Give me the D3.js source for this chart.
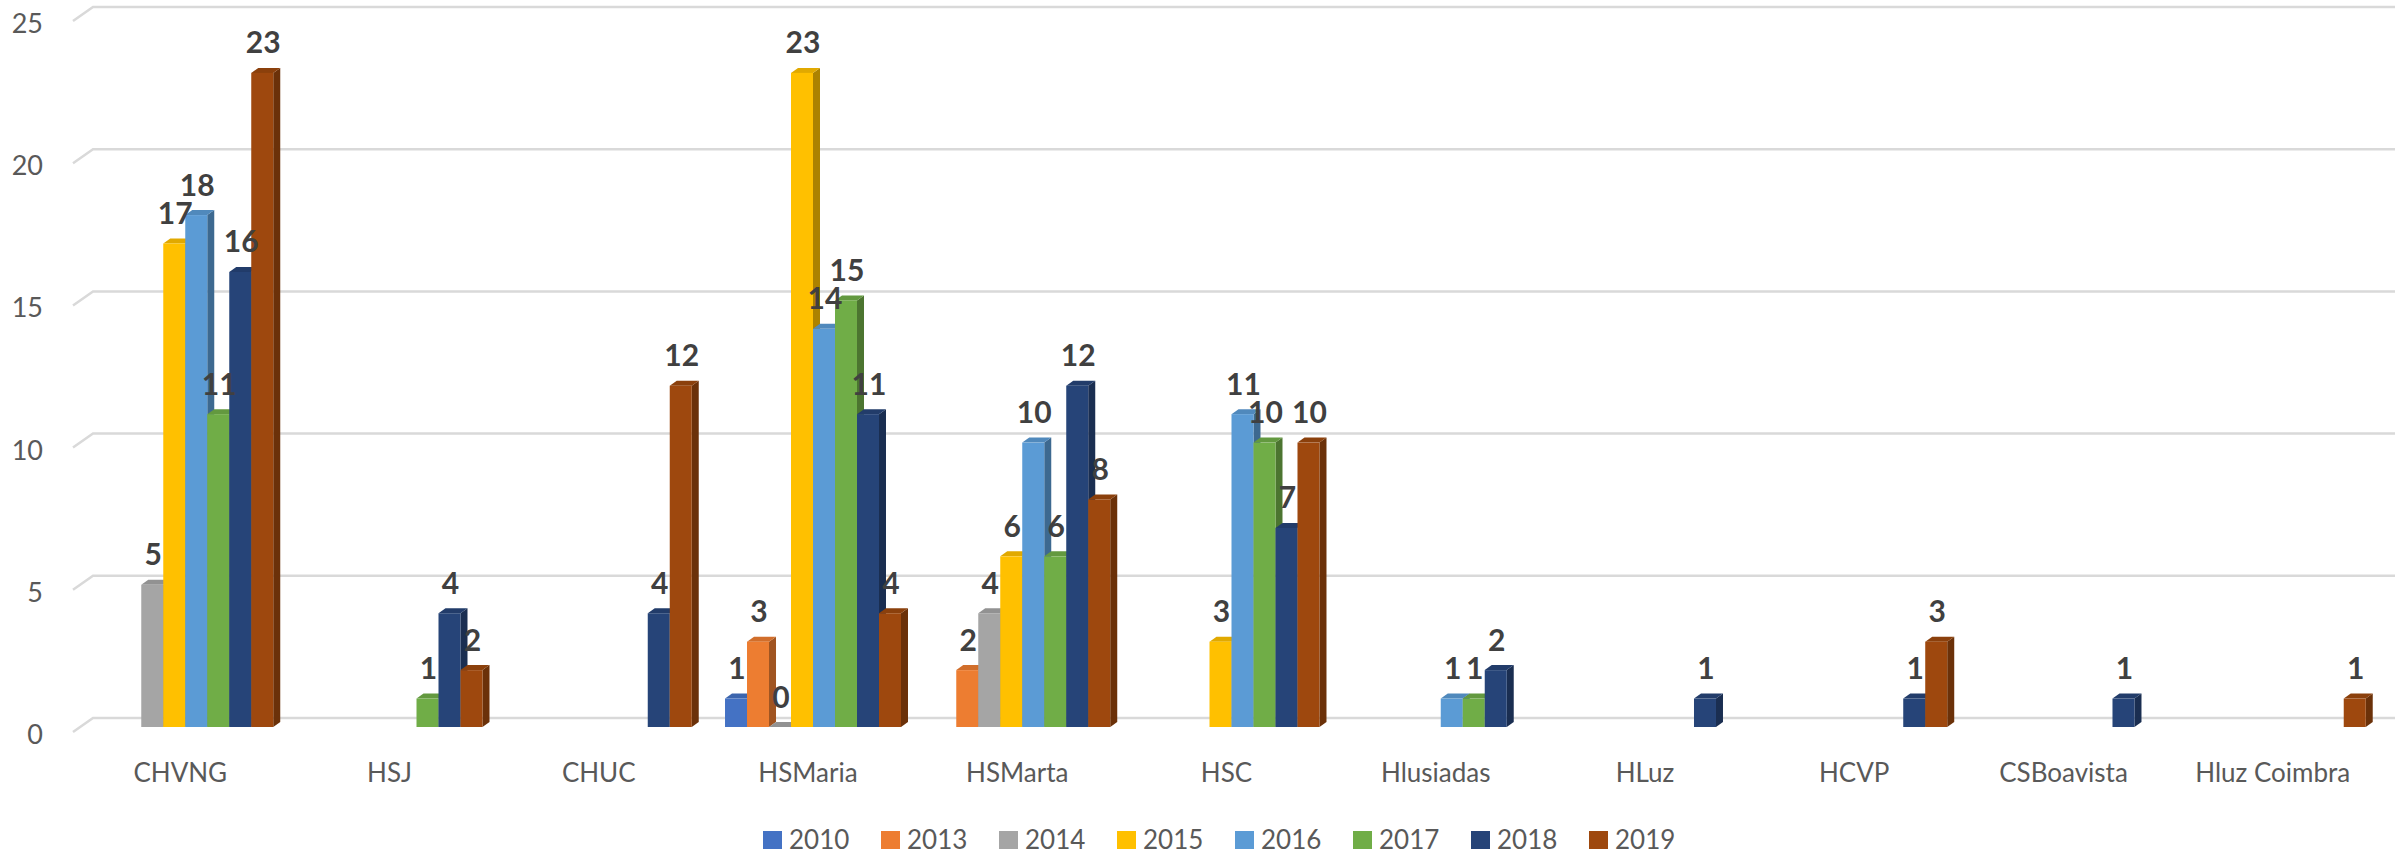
<!DOCTYPE html>
<html>
<head>
  <meta charset="utf-8">
  <title>chart</title>
  <script src="https://d3js.org/d3.v7.min.js"></script>
  <style>
    body { margin: 0; background: #fff; }
    text { font-family: Lato, "Open Sans", sans-serif; }
  </style>
</head>
<body>
  <svg width="2402" height="854" id="mainsvg"></svg>
  <script>
    const categories = ['CHVNG', 'HSJ', 'CHUC', 'HSMaria', 'HSMarta', 'HSC', 'Hlusiadas', 'HLuz', 'HCVP', 'CSBoavista', 'Hluz Coimbra'];
    const years = ['2010', '2013', '2014', '2015', '2016', '2017', '2018', '2019'];
    const colors = ['#4472C4', '#ED7D31', '#A5A5A5', '#FFC000', '#5B9BD5', '#70AD47', '#264478', '#9E480E'];
    const yTicks = [0, 5, 10, 15, 20, 25];

    // one array per year, null = no bar
    const v2010 = [null, null, null, 1, null, null, null, null, null, null, null];
    const v2013 = [null, null, null, 3, 2, null, null, null, null, null, null];
    const v2014 = [5, null, null, 0, 4, null, null, null, null, null, null];
    const v2015 = [17, null, null, 23, 6, 3, null, null, null, null, null];
    const v2016 = [18, null, null, 14, 10, 11, 1, null, null, null, null];
    const v2017 = [11, 1, null, 15, 6, 10, 1, null, null, null, null];
    const v2018 = [16, 4, 4, 11, 12, 7, 2, 1, 1, 1, null];
    const v2019 = [23, 2, 12, 4, 8, 10, null, null, 3, null, 1];
    const series = [v2010, v2013, v2014, v2015, v2016, v2017, v2018, v2019];

    let svg = d3.select('#mainsvg');

    // back wall scale, bars sit a few px lower (in front)
    let y = d3.scaleLinear().domain([0, 25]).range([718, 7]);
    const frontDrop = 9;
    const depthX = 7, depthY = 5;

    let x0 = d3.scaleBand().domain(categories).range([64, 2399])
      .paddingInner(0.159).paddingOuter(0.159);
    let x1 = d3.scaleBand().domain(years).range([0, x0.bandwidth()]);

    // gridlines + perspective ticks
    let grid = svg.append('g');
    yTicks.forEach(t => {
      grid.append('path')
        .attr('d', `M73,${y(t) + 14}L93,${y(t)}L2395,${y(t)}`)
        .attr('fill', 'none')
        .attr('stroke', '#D9D9D9')
        .attr('stroke-width', 2.5);
      grid.append('text')
        .attr('x', 43)
        .attr('y', y(t) + 26)
        .attr('text-anchor', 'end')
        .attr('font-size', 27)
        .attr('fill', '#595959')
        .text(t);
    });

    // bars
    let bars = svg.append('g');
    categories.forEach((c, i) => {
      series.forEach((s, k) => {
        let v = s[i];
        if (v === null) return;
        let bx = x0(c) + x1(years[k]);
        let bw = x1.bandwidth();
        let top = y(v) + frontDrop, bot = y(0) + frontDrop;
        let col = d3.color(colors[k]);
        let g = bars.append('g');
        // side face
        g.append('path')
          .attr('d', `M${bx + bw},${top}L${bx + bw + depthX},${top - depthY}L${bx + bw + depthX},${bot - depthY}L${bx + bw},${bot}Z`)
          .attr('fill', col.darker(1.1));
        // top face
        g.append('path')
          .attr('d', `M${bx},${top}L${bx + depthX},${top - depthY}L${bx + bw + depthX},${top - depthY}L${bx + bw},${top}Z`)
          .attr('fill', col.darker(0.35));
        // front face
        if (v > 0) {
          g.append('rect')
            .attr('x', bx)
            .attr('y', top)
            .attr('width', bw)
            .attr('height', bot - top)
            .attr('fill', colors[k]);
        }
      });
    });

    // data labels drawn after bars
    let labels = svg.append('g');
    categories.forEach((c, i) => {
      series.forEach((s, k) => {
        let v = s[i];
        if (v === null) return;
        labels.append('text')
          .attr('x', x0(c) + x1(years[k]) + x1.bandwidth() / 2 + 1)
          .attr('y', y(v) + frontDrop - 19.5)
          .attr('text-anchor', 'middle')
          .attr('font-size', 30)
          .attr('font-weight', 'bold')
          .attr('fill', '#404040')
          .text(v);
      });
    });

    // category labels
    svg.append('g').selectAll('text').data(categories)
      .enter().append('text')
      .attr('x', d => x0(d) + x0.bandwidth() / 2 - 5)
      .attr('y', 782)
      .attr('text-anchor', 'middle')
      .attr('font-size', 26)
      .attr('fill', '#595959')
      .text(d => d);

    // legend
    let legend = svg.append('g').selectAll('g').data(years)
      .enter().append('g')
      .attr('transform', (d, i) => `translate(${763 + i * 118},0)`);
    legend.append('rect')
      .attr('x', 0).attr('y', 831)
      .attr('width', 19).attr('height', 18)
      .attr('fill', (d, i) => colors[i]);
    legend.append('text')
      .attr('x', 26).attr('y', 849)
      .attr('font-size', 26)
      .attr('fill', '#595959')
      .text(d => d);
  </script>
</body>
</html>
